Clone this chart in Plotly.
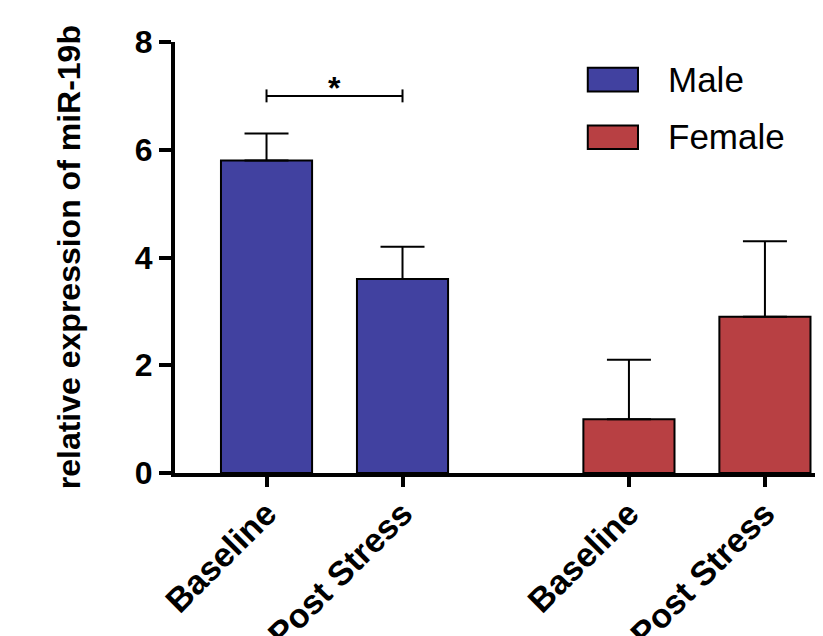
import plotly.graph_objects as go

# ---- data ----
groups = ["Male", "Female"]
conditions = ["Baseline", "Post Stress"]
male_means = [5.8, 3.6]
male_err = [0.5, 0.6]
female_means = [1.0, 2.9]
female_err = [1.1, 1.4]
y_ticks = [0, 2, 4, 6, 8]
y_title = "relative expression of miR-19b"
sig_label = "*"

colors = {"Male": "#4141A0", "Female": "#B84043"}

GROUP_GAP = 2.665
series = {"Male": (male_means, male_err), "Female": (female_means, female_err)}

fig = go.Figure()
tickvals, ticktext = [], []
for gi, g in enumerate(groups):
    means, errs = series[g]
    xs = [gi * GROUP_GAP + ci for ci in range(len(conditions))]
    tickvals += xs
    ticktext += conditions
    fig.add_trace(go.Bar(
        x=xs, y=means, width=0.67, name=g,
        marker=dict(color=colors[g], line=dict(color="black", width=2)),
        error_y=dict(type="data", array=errs, arrayminus=[0] * len(errs),
                     symmetric=False, color="black", thickness=2, width=22),
        showlegend=False,
    ))

font_family = "Liberation Sans, Arial, sans-serif"

fig.update_layout(
    width=815, height=628,
    margin=dict(l=167, r=0, t=34, b=163, autoexpand=False),
    plot_bgcolor="white", paper_bgcolor="white",
    font=dict(family=font_family, color="black"),
    xaxis=dict(range=[-0.673, 4.092], tickvals=tickvals, ticktext=ticktext,
               tickangle=-45, showgrid=False, zeroline=False, automargin=False,
               showline=True, linecolor="black", linewidth=4,
               ticks="outside", ticklen=10, tickwidth=4, tickcolor="black",
               ticklabelstandoff=-7,
               tickfont=dict(size=34, family=font_family, weight="bold")),
    yaxis=dict(range=[0, 8], tickvals=y_ticks, showgrid=False, zeroline=False,
               automargin=False,
               showline=True, linecolor="black", linewidth=4,
               ticks="outside", ticklen=12, tickwidth=4, tickcolor="black",
               tickfont=dict(size=32, family=font_family, weight="bold")),
)

# significance bracket between Male Baseline and Male Post Stress
x0, x1 = 0, 1
yb = 7.0
fig.add_shape(type="line", x0=x0, x1=x1, y0=yb, y1=yb, xref="x", yref="y",
              line=dict(color="black", width=2))
for xx in (x0, x1):
    fig.add_shape(type="line", x0=xx, x1=xx, y0=yb - 0.12, y1=yb + 0.12,
                  xref="x", yref="y", line=dict(color="black", width=2))
fig.add_annotation(x=(x0 + x1) / 2, y=yb - 0.22, text=sig_label, showarrow=False,
                   yanchor="bottom", xref="x", yref="y",
                   font=dict(size=32, family=font_family, weight="bold"))

# y-axis title
fig.add_annotation(x=-0.164, y=0.5, xref="paper", yref="paper", text=y_title,
                   textangle=-90, showarrow=False, xanchor="center", yanchor="middle",
                   font=dict(size=32, family=font_family, weight="bold"))

# custom legend
legend_rows = [(0.940, 0.885, 0.912), (0.806, 0.752, 0.780)]
for g, (yt, ybm, yc) in zip(groups, legend_rows):
    fig.add_shape(type="rect", xref="paper", yref="paper",
                  x0=0.637, x1=0.7145, y0=ybm, y1=yt,
                  fillcolor=colors[g], line=dict(color="black", width=2))
    fig.add_annotation(x=0.757, y=yc, xref="paper", yref="paper", text=g,
                       showarrow=False, xanchor="left", yanchor="middle",
                       font=dict(size=35, family=font_family))

fig.write_html("out.html")
